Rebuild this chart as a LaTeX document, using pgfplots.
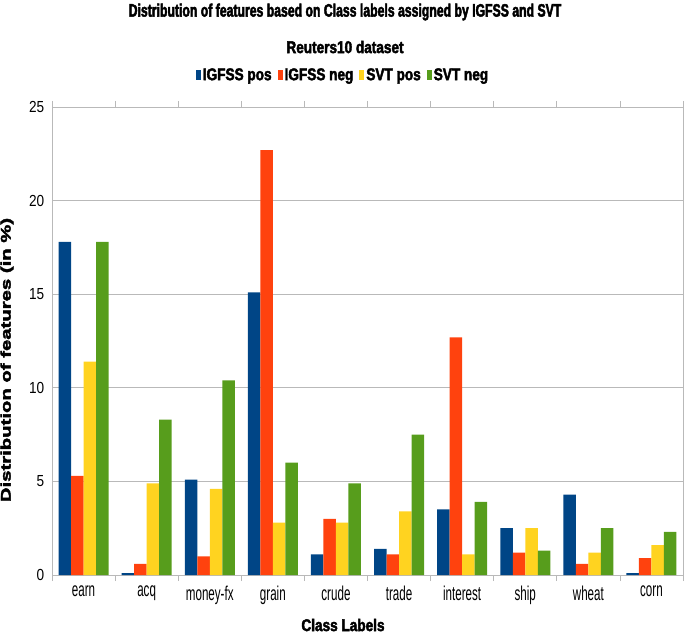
\documentclass[border=0pt]{standalone}
\usepackage{fontspec}
\setmainfont{Liberation Sans}
\newfontfamily\cond[FakeStretch=0.58]{Liberation Sans}
\newfontfamily\ycond[FakeStretch=0.85]{Liberation Sans}
\newfontfamily\titlef[UprightFont={* Bold}, FakeStretch=0.68, FakeBold=2.5]{Liberation Sans}
\newfontfamily\labf[UprightFont={* Bold}, FakeStretch=0.8, FakeBold=2.5]{Liberation Sans}
\newfontfamily\ylabf[UprightFont={* Bold}, FakeStretch=1.45, FakeBold=3]{Liberation Sans}
\usepackage{pgfplots}
\pgfplotsset{compat=1.18}

\definecolor{cblue}{HTML}{004586}
\definecolor{corange}{HTML}{FF420E}
\definecolor{cyellow}{HTML}{FFD320}
\definecolor{cgreen}{HTML}{579D1C}

\begin{document}
\begin{tikzpicture}
\path[use as bounding box] (-52pt,-60pt) rectangle (633pt,575pt);
\begin{axis}[
  at={(0,0)}, anchor=south west,
  scale only axis, width=631pt, height=468pt,
  ybar=0pt, bar width=12.5pt,
  xmin=-0.5, xmax=9.5, ymin=0, ymax=25,
  xtick={0,...,9},
  xticklabels={earn,acq,money-fx,grain,crude,trade,interest,ship,wheat,corn},
  minor xtick={-0.5,0.5,...,9.5},
  ytick={0,5,...,25},
  major x tick style={draw=none},
  minor tick length=6pt,
  tick align=outside,
  y tick style={draw=none},
  ymajorgrids, grid style={gray!55, line width=0.8pt},
  axis line style={gray!55, line width=0.8pt},
  tick style={gray!55, line width=0.8pt},
  xticklabel style={font=\cond\fontsize{20}{22}\selectfont, yshift=-3pt},
  yticklabel style={font=\ycond\fontsize{16}{18}\selectfont},
  /pgf/number format/assume math mode=true,
  legend style={at={(291pt,500pt)}, anchor=center, draw=none, legend columns=4,
    font=\labf\fontsize{17}{19}\selectfont,
    /tikz/every even column/.append style={column sep=4pt}},
  legend image code/.code={\fill[#1] (0pt,-5pt) rectangle (5pt,5pt);},
]
\addplot[fill=cblue, draw=none] coordinates {(0,17.8) (1,0.1) (2,5.1) (3,15.1) (4,1.1) (5,1.4) (6,3.5) (7,2.5) (8,4.3) (9,0.1)};
\addplot[fill=corange, draw=none] coordinates {(0,5.3) (1,0.6) (2,1.0) (3,22.7) (4,3.0) (5,1.1) (6,12.7) (7,1.2) (8,0.6) (9,0.9)};
\addplot[fill=cyellow, draw=none] coordinates {(0,11.4) (1,4.9) (2,4.6) (3,2.8) (4,2.8) (5,3.4) (6,1.1) (7,2.5) (8,1.2) (9,1.6)};
\addplot[fill=cgreen, draw=none] coordinates {(0,17.8) (1,8.3) (2,10.4) (3,6.0) (4,4.9) (5,7.5) (6,3.9) (7,1.3) (8,2.5) (9,2.3)};
\legend{IGFSS pos, IGFSS neg, SVT pos, SVT neg}
\end{axis}
\node[font=\titlef\fontsize{18}{20}\selectfont] at (293pt,563pt) {Distribution of features based on Class labels assigned by IGFSS and SVT};
\node[font=\labf\fontsize{17}{19}\selectfont] at (293pt,528pt) {Reuters10 dataset};
\node[font=\labf\fontsize{17}{19}\selectfont] at (291pt,-50pt) {Class Labels};
\node[font=\ylabf\fontsize{14}{16}\selectfont, rotate=90] at (-45pt,215pt) {Distribution of features (in \%)};
\end{tikzpicture}
\end{document}
